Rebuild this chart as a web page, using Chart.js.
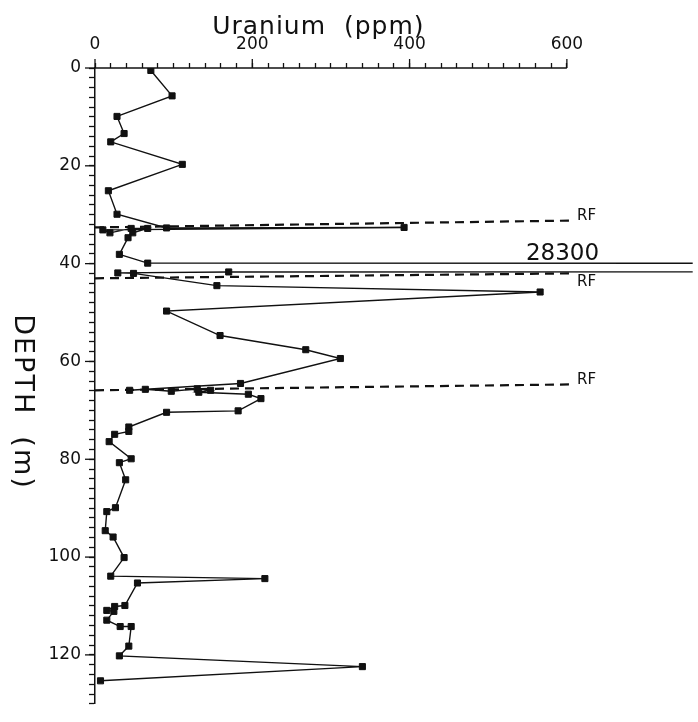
<!DOCTYPE html>
<html>
<head>
<meta charset="utf-8">
<script src="https://cdn.jsdelivr.net/npm/chart.js@4/dist/chart.umd.min.js"></script>
<style>
	html, body { margin: 0; padding: 0; background: #fff; }
	#wrap { width: 698px; height: 722px; }
</style>
</head>
<body>
<div id="wrap"><canvas id="chart" width="698" height="722"></canvas></div>
<script>
// Data (depth in m, uranium in ppm), in drawing order
const depthM = [
	0.5, 5.7, 9.9, 13.4, 15.1, 19.7, 25.1, 29.9,
	32.7, 32.6, 33.1, 33.7, 32.8, 32.8, 33.7, 34.7,
	38.1, 39.9, 40.3, 41.7, 41.9, 42.0,
	44.5, 45.8, 49.7, 54.7, 57.6, 59.4,
	64.5, 65.9, 65.7, 66.1, 65.6, 65.9, 66.3, 66.7, 67.6,
	70.1, 70.4, 73.4, 74.3, 74.9, 76.4,
	79.9, 80.7, 84.2, 89.9, 90.7, 94.6, 95.9,
	100.1, 103.9, 104.4, 105.3,
	109.9, 110.1, 110.9, 111.1, 112.9, 114.2, 114.2,
	118.2, 120.2, 122.4, 125.3,
];
const uraniumPpm = [
	71, 98, 28, 37, 20, 111, 17, 28,
	91, 393, 10, 19, 46, 67, 48, 42,
	31, 67, 28300, 170, 29, 49,
	155, 566, 91, 159, 268, 312,
	185, 44, 64, 97, 130, 147, 132, 195, 211,
	182, 91, 43, 43, 25, 18,
	46, 31, 39, 26, 15, 13, 23,
	37, 20, 216, 54,
	38, 25, 15, 24, 15, 32, 46,
	43, 31, 340, 7,
];

// RF horizons (dashed), depth at the left axis and at the line end
const rfDepthLeft = [32.6, 43.0, 65.9];
const rfDepthRight = [31.2, 42.0, 64.7];
const rfEndPpm = 603;
const rfLabelDepth = [31.0, 44.6, 64.6];
const rfLabelPpm = 613;

// Off-scale value note
const offScaleText = '28300';
const offScalePpm = 548;
const offScaleDepth = 39.2;

// Axes
const xTickLabels = [0, 200, 400, 600];
const yTickLabels = [0, 20, 40, 60, 80, 100, 120];
const X_MAX_TICK = 600;
const Y_MAX = 130;

const FONT = "'DejaVu Sans', 'Liberation Sans', sans-serif";
const INK = '#111';

const profile = depthM.map((d, i) => ({ x: uraniumPpm[i], y: d }));
const rfSets = rfDepthLeft.map((d, i) => ({
	data: [{ x: 0, y: d }, { x: rfEndPpm, y: rfDepthRight[i] }],
	borderColor: INK,
	borderWidth: 2.2,
	borderDash: [9, 6],
	pointRadius: 0,
	fill: false,
	tension: 0,
}));

function range(step, max) {
	const out = [];
	for (let v = 0; v <= max; v += step) out.push({ value: v });
	return out;
}

// Axis line that stops at 600, longer major ticks, titles and notes
const decorations = {
	id: 'decorations',
	afterDraw(chart) {
		const { ctx, scales: { x, y } } = chart;
		const top = chart.chartArea.top;
		const left = chart.chartArea.left;
		ctx.save();
		ctx.strokeStyle = INK;
		ctx.fillStyle = INK;

		ctx.lineWidth = 1.5;
		ctx.beginPath();
		ctx.moveTo(x.getPixelForValue(0) - 1, top);
		ctx.lineTo(x.getPixelForValue(X_MAX_TICK), top);
		ctx.stroke();

		ctx.lineWidth = 1.3;
		xTickLabels.forEach((v) => {
			const px = x.getPixelForValue(v);
			ctx.beginPath();
			ctx.moveTo(px, top);
			ctx.lineTo(px, top - 9);
			ctx.stroke();
		});
		yTickLabels.forEach((v) => {
			const py = y.getPixelForValue(v);
			ctx.beginPath();
			ctx.moveTo(left, py);
			ctx.lineTo(left - 10, py);
			ctx.stroke();
		});

		// x title
		ctx.font = `25px ${FONT}`;
		ctx.letterSpacing = '1px';
		ctx.textAlign = 'center';
		ctx.textBaseline = 'alphabetic';
		ctx.fillText('Uranium  (ppm)', x.getPixelForValue(284), 34);

		// y title, reading downward
		ctx.save();
		ctx.translate(22, 402);
		ctx.rotate(Math.PI / 2);
		ctx.font = `27px ${FONT}`;
		ctx.letterSpacing = '2px';
		ctx.textAlign = 'center';
		ctx.textBaseline = 'middle';
		ctx.fillText('DEPTH  (m)', 0, 0);
		ctx.restore();
		ctx.letterSpacing = '0px';

		// off-scale value
		ctx.font = `23px ${FONT}`;
		ctx.textAlign = 'left';
		ctx.textBaseline = 'alphabetic';
		ctx.fillText(offScaleText, x.getPixelForValue(offScalePpm), y.getPixelForValue(offScaleDepth));

		// RF labels
		ctx.font = `15px ${FONT}`;
		rfLabelDepth.forEach((d) => {
			ctx.fillText('RF', x.getPixelForValue(rfLabelPpm), y.getPixelForValue(d));
		});
		ctx.restore();
	},
};

new Chart(document.getElementById('chart'), {
	type: 'line',
	data: {
		datasets: [
			{
				data: profile,
				borderColor: INK,
				backgroundColor: INK,
				borderWidth: 1.4,
				pointStyle: 'rect',
				pointRadius: 4.3,
				pointBorderWidth: 1,
				pointBorderColor: INK,
				fill: false,
				tension: 0,
			},
			...rfSets,
		],
	},
	options: {
		responsive: false,
		animation: false,
		parsing: false,
		layout: { padding: { left: 0, top: 0, right: 0, bottom: 4 } },
		plugins: { legend: { display: false }, tooltip: { enabled: false } },
		scales: {
			x: {
				type: 'linear',
				position: 'top',
				min: 0,
				max: 760,
				afterBuildTicks: (s) => { s.ticks = range(20, X_MAX_TICK); },
				afterFit: (s) => { s.height = 68; },
				ticks: {
					autoSkip: false,
					maxRotation: 0,
					padding: 8,
					color: INK,
					font: { family: FONT, size: 17 },
					callback: (v) => (xTickLabels.includes(v) ? String(v) : ''),
				},
				grid: { drawOnChartArea: false, tickLength: 5, tickWidth: 1.3, tickColor: INK },
				border: { display: false },
			},
			y: {
				type: 'linear',
				reverse: true,
				min: 0,
				max: Y_MAX,
				afterBuildTicks: (s) => { s.ticks = range(2, Y_MAX); },
				afterFit: (s) => { s.width = 95; },
				ticks: {
					autoSkip: false,
					padding: 8,
					color: INK,
					font: { family: FONT, size: 17 },
					callback: (v) => (yTickLabels.includes(v) ? String(v) : ''),
				},
				grid: { drawOnChartArea: false, tickLength: 6, tickWidth: 1.3, tickColor: INK },
				border: { display: true, color: INK, width: 1.5 },
			},
		},
	},
	plugins: [decorations],
});
</script>
</body>
</html>
